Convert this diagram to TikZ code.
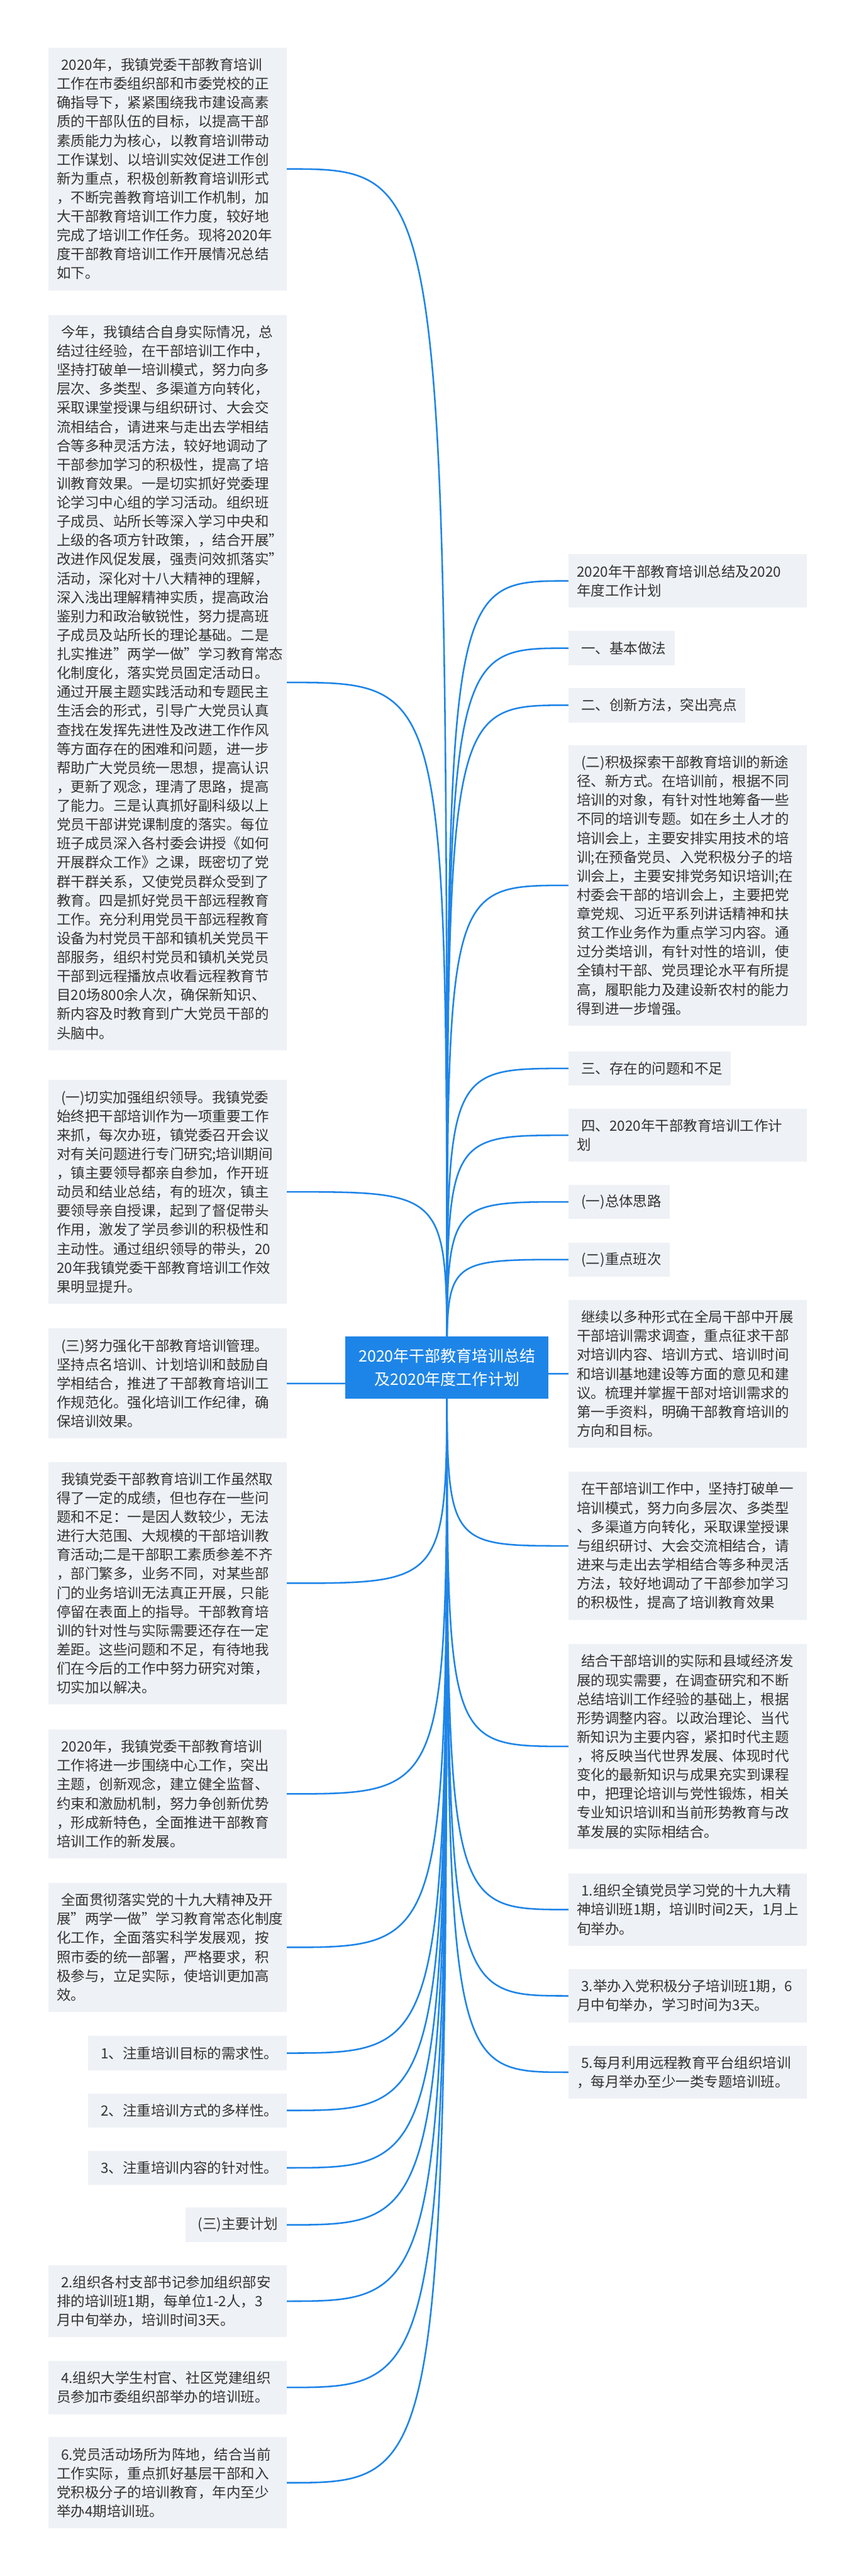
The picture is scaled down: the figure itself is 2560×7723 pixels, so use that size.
\documentclass[tikz,border=0pt]{standalone}
\usepackage{fontspec}
\setmainfont{Noto Sans CJK SC}
\usetikzlibrary{backgrounds}

\definecolor{bleu}{RGB}{30,133,232}
\definecolor{fond}{RGB}{238,241,245}
\definecolor{texte}{RGB}{51,51,51}
\newcommand{\retrait}{\hspace*{3.25pt}}

\tikzset{
  boite/.style={fill=fond, text=texte, inner xsep=6.25pt, inner ysep=0pt,
    align=left, font=\fontsize{10.6pt}{14.2pt}\selectfont},
  pleine/.style={text width=166pt},
  haut/.style={minimum height=#1*14.2pt+11.5pt},
  racine/.style={fill=bleu, text=white, align=center, minimum width=152.5pt,
    minimum height=46.8pt, inner xsep=3pt, font=\fontsize{11.8pt}{17.5pt}\selectfont},
  lien/.style={draw=bleu, line width=1.2pt}
}

\begin{document}
\begin{tikzpicture}[x=0.25pt, y=-0.25pt]
    \useasboundingbox (0,0) rectangle (2560,7723);

    % Noeud central
    \node[racine] (C) at (1340,4100) {2020年干部教育培训总结\\及2020年度工作计划};

    % Branches a gauche
    \node[boite, pleine, haut=12, anchor=north east] (G1) at (860,142) {\retrait 2020年，我镇党委干部教育培训\\工作在市委组织部和市委党校的正\\确指导下，紧紧围绕我市建设高素\\质的干部队伍的目标，以提高干部\\素质能力为核心，以教育培训带动\\工作谋划、以培训实效促进工作创\\新为重点，积极创新教育培训形式\\，不断完善教育培训工作机制，加\\大干部教育培训工作力度，较好地\\完成了培训工作任务。现将2020年\\度干部教育培训工作开展情况总结\\如下。};
    \node[boite, pleine, haut=38, anchor=north east] (G2) at (860,943) {\retrait 今年，我镇结合自身实际情况，总\\结过往经验，在干部培训工作中，\\坚持打破单一培训模式，努力向多\\层次、多类型、多渠道方向转化，\\采取课堂授课与组织研讨、大会交\\流相结合，请进来与走出去学相结\\合等多种灵活方法，较好地调动了\\干部参加学习的积极性，提高了培\\训教育效果。一是切实抓好党委理\\论学习中心组的学习活动。组织班\\子成员、站所长等深入学习中央和\\上级的各项方针政策，，结合开展"\\改进作风促发展，强责问效抓落实"\\活动，深化对十八大精神的理解，\\深入浅出理解精神实质，提高政治\\鉴别力和政治敏锐性，努力提高班\\子成员及站所长的理论基础。二是\\扎实推进"两学一做"学习教育常态\\化制度化，落实党员固定活动日。\\通过开展主题实践活动和专题民主\\生活会的形式，引导广大党员认真\\查找在发挥先进性及改进工作作风\\等方面存在的困难和问题，进一步\\帮助广大党员统一思想，提高认识\\，更新了观念，理清了思路，提高\\了能力。三是认真抓好副科级以上\\党员干部讲党课制度的落实。每位\\班子成员深入各村委会讲授《如何\\开展群众工作》之课，既密切了党\\群干群关系，又使党员群众受到了\\教育。四是抓好党员干部远程教育\\工作。充分利用党员干部远程教育\\设备为村党员干部和镇机关党员干\\部服务，组织村党员和镇机关党员\\干部到远程播放点收看远程教育节\\目20场800余人次，确保新知识、\\新内容及时教育到广大党员干部的\\头脑中。};
    \node[boite, pleine, haut=11, anchor=north east] (G3) at (860,3237) {\retrait (一)切实加强组织领导。我镇党委\\始终把干部培训作为一项重要工作\\来抓，每次办班，镇党委召开会议\\对有关问题进行专门研究;培训期间\\，镇主要领导都亲自参加，作开班\\动员和结业总结，有的班次，镇主\\要领导亲自授课，起到了督促带头\\作用，激发了学员参训的积极性和\\主动性。通过组织领导的带头，20\\20年我镇党委干部教育培训工作效\\果明显提升。};
    \node[boite, pleine, haut=5, anchor=north east] (G4) at (860,3982) {\retrait (三)努力强化干部教育培训管理。\\坚持点名培训、计划培训和鼓励自\\学相结合，推进了干部教育培训工\\作规范化。强化培训工作纪律，确\\保培训效果。};
    \node[boite, pleine, haut=12, anchor=north east] (G5) at (860,4382) {\retrait 我镇党委干部教育培训工作虽然取\\得了一定的成绩，但也存在一些问\\题和不足：一是因人数较少，无法\\进行大范围、大规模的干部培训教\\育活动;二是干部职工素质参差不齐\\，部门繁多，业务不同，对某些部\\门的业务培训无法真正开展，只能\\停留在表面上的指导。干部教育培\\训的针对性与实际需要还存在一定\\差距。这些问题和不足，有待地我\\们在今后的工作中努力研究对策，\\切实加以解决。};
    \node[boite, pleine, haut=6, anchor=north east] (G6) at (860,5184) {\retrait 2020年，我镇党委干部教育培训\\工作将进一步围绕中心工作，突出\\主题，创新观念，建立健全监督、\\约束和激励机制，努力争创新优势\\，形成新特色，全面推进干部教育\\培训工作的新发展。};
    \node[boite, pleine, haut=6, anchor=north east] (G7) at (860,5644) {\retrait 全面贯彻落实党的十九大精神及开\\展"两学一做"学习教育常态化制度\\化工作，全面落实科学发展观，按\\照市委的统一部署，严格要求，积\\极参与，立足实际，使培训更加高\\效。};
    \node[boite, haut=1, anchor=north east] (G8) at (860,6103) {\retrait 1、注重培训目标的需求性。};
    \node[boite, haut=1, anchor=north east] (G9) at (860,6275) {\retrait 2、注重培训方式的多样性。};
    \node[boite, haut=1, anchor=north east] (G10) at (860,6447) {\retrait 3、注重培训内容的针对性。};
    \node[boite, haut=1, anchor=north east] (G11) at (860,6618) {\retrait (三)主要计划};
    \node[boite, pleine, haut=3, anchor=north east] (G12) at (860,6790) {\retrait 2.组织各村支部书记参加组织部安\\排的培训班1期，每单位1-2人，3\\月中旬举办，培训时间3天。};
    \node[boite, pleine, haut=2, anchor=north east] (G13) at (860,7077) {\retrait 4.组织大学生村官、社区党建组织\\员参加市委组织部举办的培训班。};
    \node[boite, pleine, haut=4, anchor=north east] (G14) at (860,7306) {\retrait 6.党员活动场所为阵地，结合当前\\工作实际，重点抓好基层干部和入\\党积极分子的培训教育，年内至少\\举办4期培训班。};

    % Branches a droite
    \node[boite, pleine, haut=2, anchor=north west] (D1) at (1704,1661) {2020年干部教育培训总结及2020\\年度工作计划};
    \node[boite, haut=1, anchor=north west] (D2) at (1704,1891) {\retrait 一、基本做法};
    \node[boite, haut=1, anchor=north west] (D3) at (1704,2062) {\retrait 二、创新方法，突出亮点};
    \node[boite, pleine, haut=14, anchor=north west] (D4) at (1704,2233) {\retrait (二)积极探索干部教育培训的新途\\径、新方式。在培训前，根据不同\\培训的对象，有针对性地筹备一些\\不同的培训专题。如在乡土人才的\\培训会上，主要安排实用技术的培\\训;在预备党员、入党积极分子的培\\训会上，主要安排党务知识培训;在\\村委会干部的培训会上，主要把党\\章党规、习近平系列讲话精神和扶\\贫工作业务作为重点学习内容。通\\过分类培训，有针对性的培训，使\\全镇村干部、党员理论水平有所提\\高，履职能力及建设新农村的能力\\得到进一步增强。};
    \node[boite, haut=1, anchor=north west] (D5) at (1704,3151) {\retrait 三、存在的问题和不足};
    \node[boite, pleine, haut=2, anchor=north west] (D6) at (1704,3323) {\retrait 四、2020年干部教育培训工作计\\划};
    \node[boite, haut=1, anchor=north west] (D7) at (1704,3551) {\retrait (一)总体思路};
    \node[boite, haut=1, anchor=north west] (D8) at (1704,3724) {\retrait (二)重点班次};
    \node[boite, pleine, haut=7, anchor=north west] (D9) at (1704,3896) {\retrait 继续以多种形式在全局干部中开展\\干部培训需求调查，重点征求干部\\对培训内容、培训方式、培训时间\\和培训基地建设等方面的意见和建\\议。梳理并掌握干部对培训需求的\\第一手资料，明确干部教育培训的\\方向和目标。};
    \node[boite, pleine, haut=7, anchor=north west] (D10) at (1704,4412) {\retrait 在干部培训工作中，坚持打破单一\\培训模式，努力向多层次、多类型\\、多渠道方向转化，采取课堂授课\\与组织研讨、大会交流相结合，请\\进来与走出去学相结合等多种灵活\\方法，较好地调动了干部参加学习\\的积极性，提高了培训教育效果};
    \node[boite, pleine, haut=10, anchor=north west] (D11) at (1704,4928) {\retrait 结合干部培训的实际和县域经济发\\展的现实需要，在调查研究和不断\\总结培训工作经验的基础上，根据\\形势调整内容。以政治理论、当代\\新知识为主要内容，紧扣时代主题\\，将反映当代世界发展、体现时代\\变化的最新知识与成果充实到课程\\中，把理论培训与党性锻炼，相关\\专业知识培训和当前形势教育与改\\革发展的实际相结合。};
    \node[boite, pleine, haut=3, anchor=north west] (D12) at (1704,5616) {\retrait 1.组织全镇党员学习党的十九大精\\神培训班1期，培训时间2天，1月上\\旬举办。};
    \node[boite, pleine, haut=2, anchor=north west] (D13) at (1704,5903) {\retrait 3.举办入党积极分子培训班1期，6\\月中旬举办，学习时间为3天。};
    \node[boite, pleine, haut=2, anchor=north west] (D14) at (1704,6132) {\retrait 5.每月利用远程教育平台组织培训\\，每月举办至少一类专题培训班。};

    % Liens (derriere les boites)
    \begin{scope}[on background layer]
        \fill[white] (0,0) rectangle (2560,7723);
        \foreach \i in {1,...,14} {
            \draw[lien] (C.center) .. controls (C.center |- G\i.east) .. (G\i.east);
            \draw[lien] (C.center) .. controls (C.center |- D\i.west) .. (D\i.west);
        }
    \end{scope}
\end{tikzpicture}
\end{document}
